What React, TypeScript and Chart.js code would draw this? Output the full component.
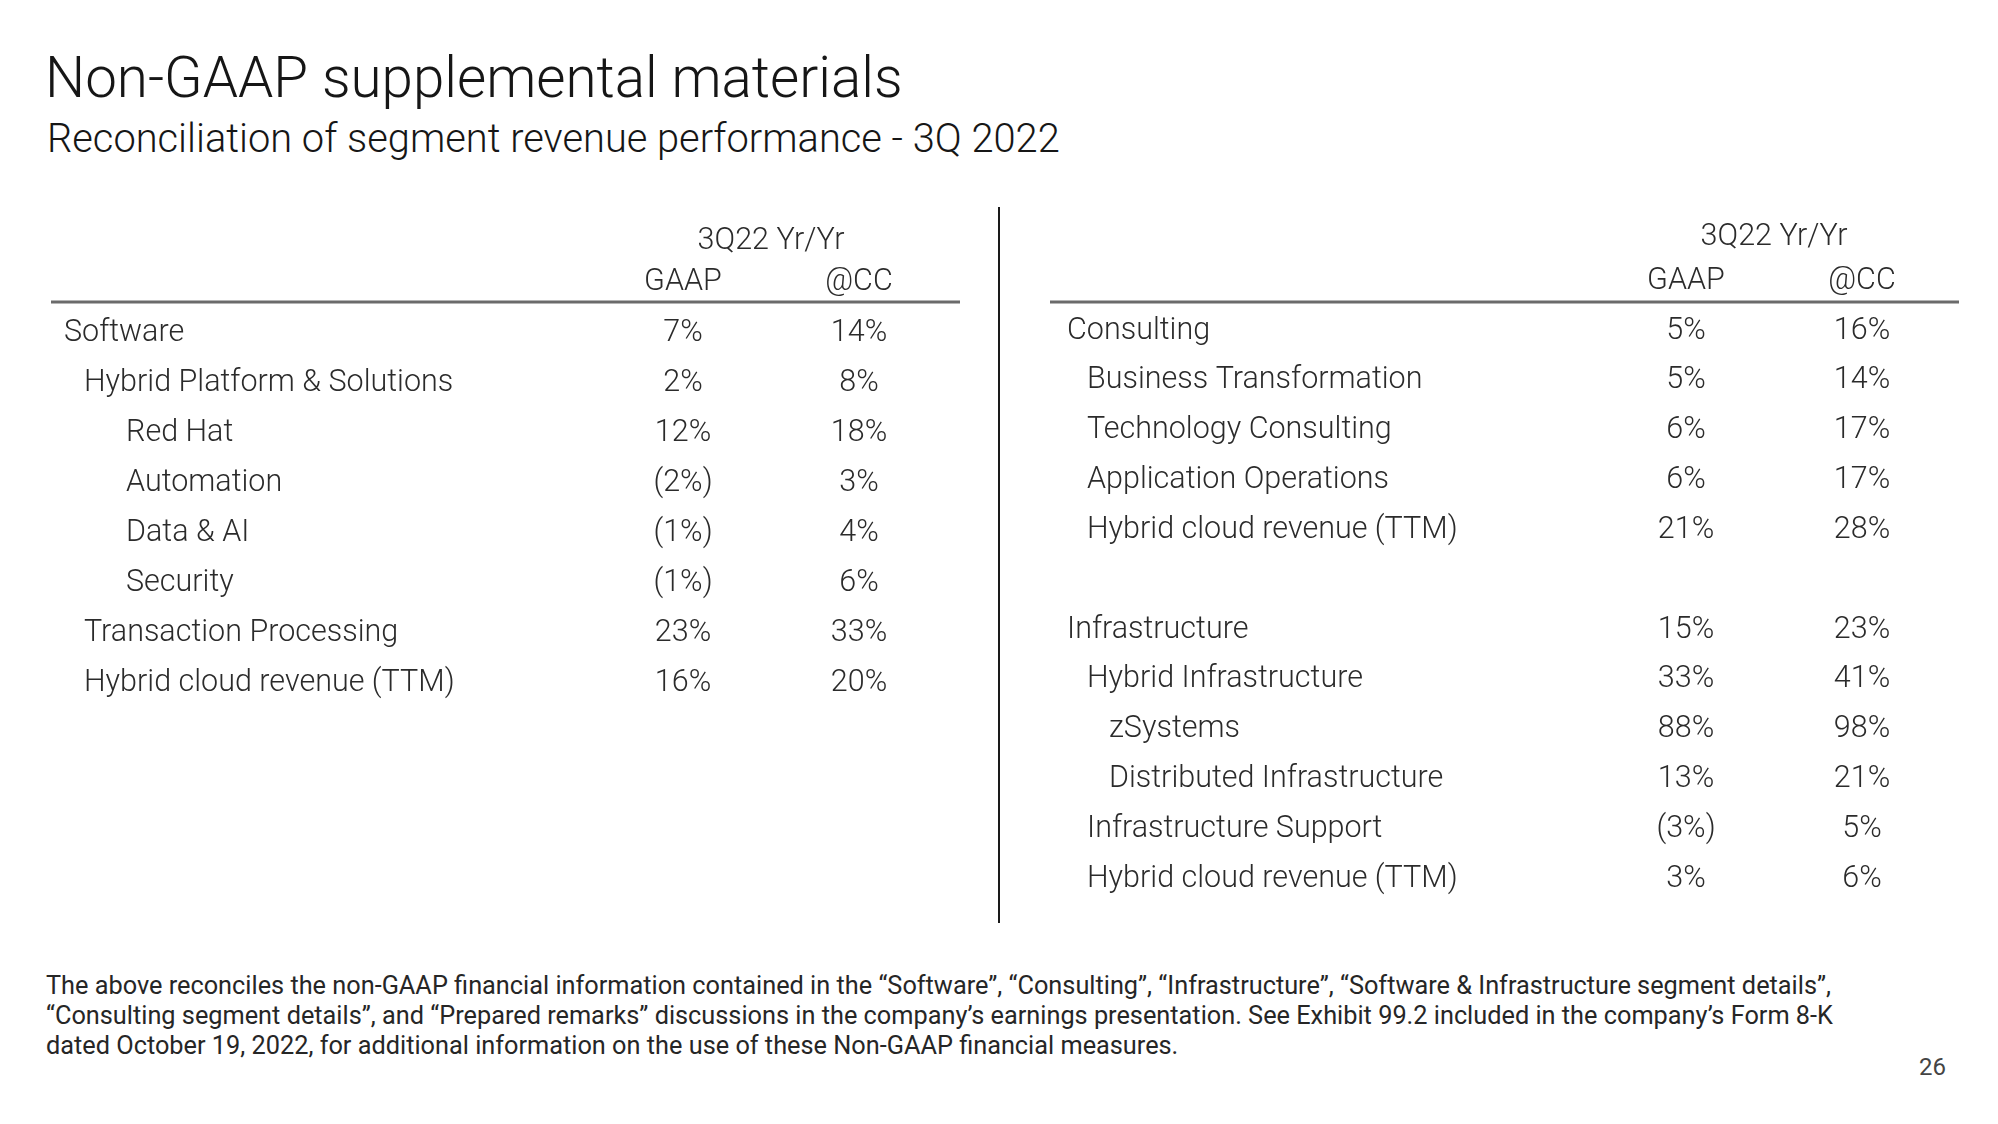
import React, { useEffect, useRef } from "react";
import { Chart, registerables } from "chart.js";

Chart.register(...registerables);

// ---------- data ----------
const titleText = "Non-GAAP supplemental materials";
const subtitleText = "Reconciliation of segment revenue performance - 3Q 2022";
const periodHeader = "3Q22 Yr/Yr";
const columns = ["GAAP", "@CC"];

const leftRows = [
  "Software",
  "Hybrid Platform & Solutions",
  "Red Hat",
  "Automation",
  "Data & AI",
  "Security",
  "Transaction Processing",
  "Hybrid cloud revenue (TTM)",
];
const leftLevels = [0, 1, 2, 2, 2, 2, 1, 1];
const leftGaap: (number | null)[] = [7, 2, 12, -2, -1, -1, 23, 16];
const leftCC: (number | null)[] = [14, 8, 18, 3, 4, 6, 33, 20];

const rightRows = [
  "Consulting",
  "Business Transformation",
  "Technology Consulting",
  "Application Operations",
  "Hybrid cloud revenue (TTM)",
  "",
  "Infrastructure",
  "Hybrid Infrastructure",
  "zSystems",
  "Distributed Infrastructure",
  "Infrastructure Support",
  "Hybrid cloud revenue (TTM)",
];
const rightLevels = [0, 1, 1, 1, 1, 0, 0, 1, 2, 2, 1, 1];
const rightGaap: (number | null)[] = [5, 5, 6, 6, 21, null, 15, 33, 88, 13, -3, 3];
const rightCC: (number | null)[] = [16, 14, 17, 17, 28, null, 23, 41, 98, 21, 5, 6];

const footnoteLines = [
  "The above reconciles the non-GAAP financial information contained in the \u201cSoftware\u201d, \u201cConsulting\u201d, \u201cInfrastructure\u201d, \u201cSoftware & Infrastructure segment details\u201d,",
  "\u201cConsulting segment details\u201d, and \u201cPrepared remarks\u201d discussions in the company\u2019s earnings presentation. See Exhibit 99.2 included in the company\u2019s Form 8-K",
  "dated October 19, 2022, for additional information on the use of these Non-GAAP financial measures.",
];
const pageNumber = "26";

// ---------- styling ----------
const TEXT_FONT = "Roboto, 'Open Sans', 'Noto Sans', sans-serif";
const TEXT_COLOR = "#2b2b2b";
const TABLE_FONT_SIZE = 30.5;
const TEXT_DY = 4;

const fmt = (v: number) => (v < 0 ? `(${Math.abs(v)}%)` : `${v}%`);
const rowKey = (rows: string[], i: number) => `${i}:${rows[i]}`;

const tablePlugin = {
  id: "tableDeco",
  afterDatasetsDraw(chart: any, _args: any, opts: any) {
    const ctx = chart.ctx;
    const xs = chart.scales.x;
    const ys = chart.scales.y;
    const row0 = ys.getPixelForValue(0);
    ctx.save();
    ctx.fillStyle = TEXT_COLOR;
    ctx.font = `300 ${TABLE_FONT_SIZE}px ${TEXT_FONT}`;
    ctx.textBaseline = "middle";

    // headers
    ctx.textAlign = "center";
    const gx = xs.getPixelForValue(0);
    const cx = xs.getPixelForValue(1);
    ctx.fillText(periodHeader, (gx + cx) / 2, row0 + opts.periodDy + TEXT_DY);
    columns.forEach((c, i) => {
      ctx.fillText(c, xs.getPixelForValue(i), row0 + opts.colDy + TEXT_DY);
    });

    // header rule
    ctx.strokeStyle = "#6b6b6b";
    ctx.lineWidth = 3;
    ctx.beginPath();
    ctx.moveTo(opts.ruleLeft, row0 + opts.ruleDy);
    ctx.lineTo(opts.ruleRight, row0 + opts.ruleDy);
    ctx.stroke();

    // row labels
    ctx.textAlign = "left";
    opts.rows.forEach((r: string, i: number) => {
      if (!r) return;
      const x = opts.labelX + opts.indents[opts.levels[i]];
      ctx.fillText(r, x, ys.getPixelForValue(i) + TEXT_DY);
    });

    // values at each point
    ctx.textAlign = "center";
    chart.data.datasets.forEach((ds: any, di: number) => {
      const meta = chart.getDatasetMeta(di);
      meta.data.forEach((el: any, i: number) => {
        const raw = ds.data[i];
        if (!raw || raw.v == null) return;
        ctx.fillText(fmt(raw.v), el.x, el.y + TEXT_DY);
      });
    });
    ctx.restore();
  },
};

function buildDataset(rows: string[], values: (number | null)[], col: string) {
  const data: any[] = [];
  values.forEach((v, i) => {
    if (v != null) data.push({ x: col, y: rowKey(rows, i), v });
  });
  return {
    label: col,
    data,
    pointRadius: 0,
    pointHoverRadius: 0,
    showLine: false,
  };
}

type TableProps = {
  rows: string[];
  levels: number[];
  gaap: (number | null)[];
  cc: (number | null)[];
  width: number;
  height: number;
  padding: { left: number; right: number; top: number; bottom: number };
  deco: any;
};

function TableChart(p: TableProps) {
  const ref = useRef<HTMLCanvasElement>(null);
  useEffect(() => {
    if (!ref.current) return;
    const chart = new Chart(ref.current, {
      type: "scatter",
      data: {
        datasets: [
          buildDataset(p.rows, p.gaap, columns[0]),
          buildDataset(p.rows, p.cc, columns[1]),
        ] as any,
      },
      options: {
        animation: false,
        responsive: false,
        events: [],
        layout: { padding: p.padding },
        plugins: {
          legend: { display: false },
          tooltip: { enabled: false },
          title: { display: false },
          tableDeco: { ...p.deco, rows: p.rows, levels: p.levels },
        } as any,
        scales: {
          x: { type: "category", labels: columns, offset: true, display: false },
          y: {
            type: "category",
            labels: p.rows.map((_, i) => rowKey(p.rows, i)),
            offset: false,
            display: false,
          },
        },
      },
      plugins: [tablePlugin],
    });
    return () => chart.destroy();
  }, []);
  return (
    <canvas
      ref={ref}
      width={p.width}
      height={p.height}
      style={{ width: p.width, height: p.height, display: "block" }}
    />
  );
}

export default function App() {
  return (
    <div
      style={{
        position: "absolute",
        left: 0,
        top: 0,
        width: 1998,
        height: 1124,
        background: "#ffffff",
        overflow: "hidden",
        fontFamily: TEXT_FONT,
        color: "#161616",
      }}
    >
      <div
        style={{
          position: "absolute",
          left: 45,
          top: 50,
          fontSize: 56.5,
          lineHeight: "56.5px",
          fontWeight: 300,
          whiteSpace: "nowrap",
        }}
      >
        {titleText}
      </div>
      <div
        style={{
          position: "absolute",
          left: 47,
          top: 119,
          fontSize: 39.8,
          lineHeight: "39.8px",
          fontWeight: 300,
          whiteSpace: "nowrap",
        }}
      >
        {subtitleText}
      </div>

      <div style={{ position: "absolute", left: 0, top: 200 }}>
        <TableChart
          rows={leftRows}
          levels={leftLevels}
          gaap={leftGaap}
          cc={leftCC}
          width={998}
          height={540}
          padding={{ left: 595, right: 51, top: 129, bottom: 61 }}
          deco={{
            periodDy: -92,
            colDy: -51,
            ruleDy: -27,
            ruleLeft: 51,
            ruleRight: 960,
            labelX: 64,
            indents: [0, 20, 62],
          }}
        />
      </div>

      <div
        style={{
          position: "absolute",
          left: 998,
          top: 207,
          width: 2,
          height: 716,
          background: "#1a1a1a",
        }}
      />

      <div style={{ position: "absolute", left: 1000, top: 200 }}>
        <TableChart
          rows={rightRows}
          levels={rightLevels}
          gaap={rightGaap}
          cc={rightCC}
          width={998}
          height={720}
          padding={{ left: 598, right: 48, top: 127, bottom: 45 }}
          deco={{
            periodDy: -94,
            colDy: -50,
            ruleDy: -25,
            ruleLeft: 50,
            ruleRight: 959,
            labelX: 67,
            indents: [0, 20, 42],
          }}
        />
      </div>

      <div
        style={{
          position: "absolute",
          left: 46,
          top: 971,
          fontFamily: TEXT_FONT,
          fontSize: 25.3,
          lineHeight: "30px",
          color: "#262626",
          whiteSpace: "nowrap",
        }}
      >
        {footnoteLines.map((l, i) => (
          <div key={i}>{l}</div>
        ))}
      </div>
      <div
        style={{
          position: "absolute",
          left: 1919,
          top: 1052,
          fontFamily: TEXT_FONT,
          fontSize: 24,
          lineHeight: "30px",
          color: "#444444",
        }}
      >
        {pageNumber}
      </div>
    </div>
  );
}
